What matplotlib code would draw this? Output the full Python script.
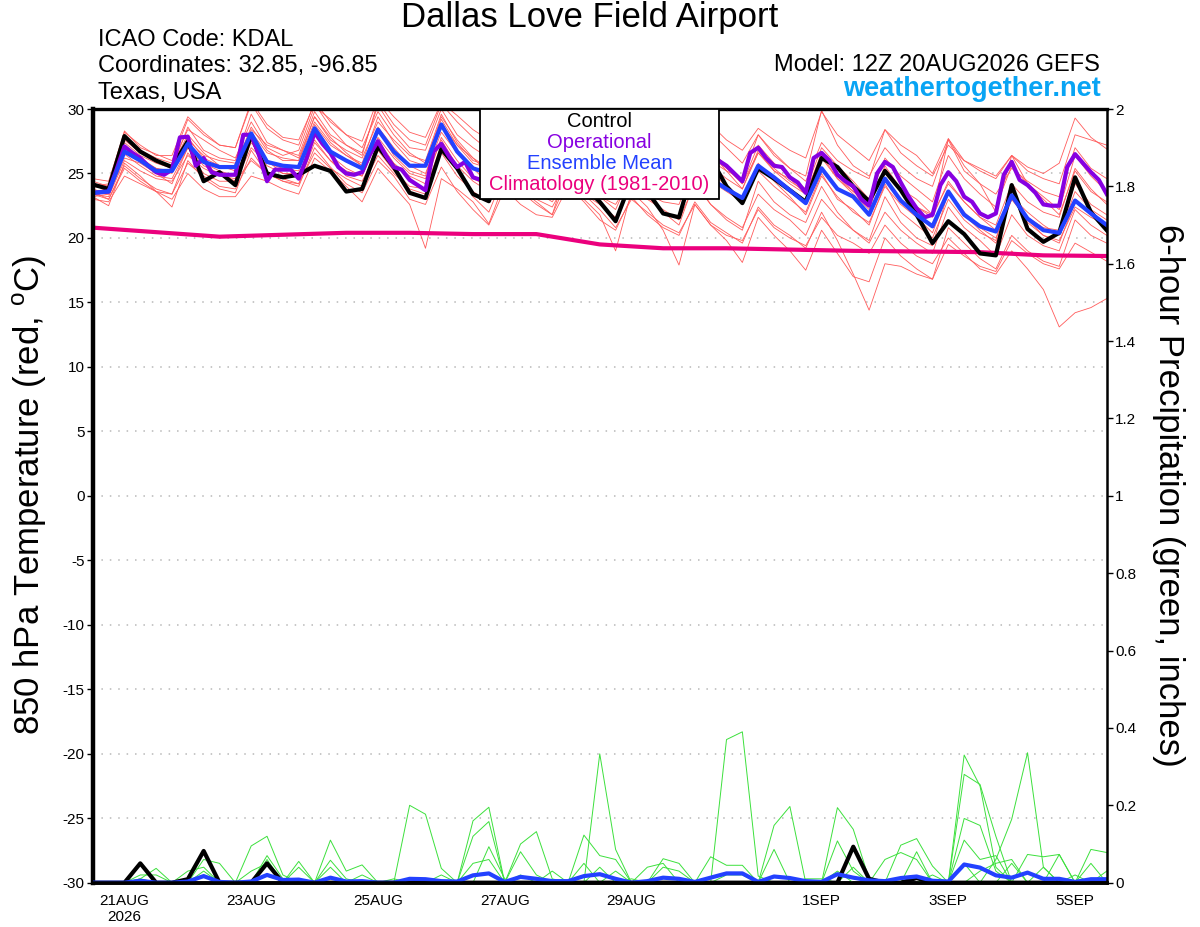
import numpy as np
import pandas as pd
import matplotlib
matplotlib.use('Agg')
import matplotlib.pyplot as plt
from matplotlib.patches import Rectangle
from matplotlib.ticker import FuncFormatter

plt.rcParams['font.family'] = ['Liberation Sans', 'DejaVu Sans']
plt.rcParams['mathtext.fontset'] = 'custom'
plt.rcParams['mathtext.rm'] = 'Liberation Sans'
plt.rcParams['axes.unicode_minus'] = False

# 6-hourly GEFS steps from 12Z 20AUG2026 to 5SEP 12Z, operational run 3-hourly
times = pd.date_range('2026-08-20 12:00', periods=65, freq='6h')
times_op = pd.date_range('2026-08-20 12:00', periods=129, freq='3h')
clim_times = pd.date_range('2026-08-20 12:00', periods=17, freq='24h')

tick_dates = pd.to_datetime(['2026-08-21', '2026-08-23', '2026-08-25', '2026-08-27',
                             '2026-08-29', '2026-09-01', '2026-09-03', '2026-09-05'])
tick_labels = ['21AUG\n2026', '23AUG', '25AUG', '27AUG', '29AUG', '1SEP', '3SEP', '5SEP']

# ---- 850 hPa temperature (C) ----
control_temp = [24.15,
    23.8, 27.9, 26.7, 26.0,  25.5, 27.5, 24.4, 25.1,  24.1, 28.0, 25.0, 24.7,
    24.9, 25.6, 25.2, 23.6,  23.8, 27.1, 25.5, 23.5,  23.1, 26.9, 25.4, 23.4,
    22.85, 26.0, 25.0, 24.0, 23.6, 25.5, 24.0, 22.8,  21.3, 24.5, 23.6, 21.9,
    21.6, 25.8, 26.2, 24.0,  22.7, 25.4, 24.6, 23.7,  22.8, 26.2, 25.5, 24.0,
    22.85, 25.2, 23.7, 21.8, 19.6, 21.3, 20.3, 18.8,  18.65, 24.1, 20.7, 19.7,
    20.4, 24.7, 22.0, 20.6]

mean_temp = [23.5,
    23.6, 26.7, 26.0, 25.2,  25.2, 27.3, 25.9, 25.5,  25.5, 28.1, 25.9, 25.6,
    25.5, 28.5, 26.7, 26.0,  25.4, 28.4, 26.7, 25.6,  25.6, 28.8, 26.7, 25.4,
    25.0, 27.2, 25.9, 25.1,  24.8, 26.4, 25.3, 24.5,  24.0, 25.9, 25.0, 24.4,
    24.0, 25.7, 24.6, 23.8,  23.1, 25.6, 24.7, 23.7,  22.7, 25.4, 23.8, 23.2,
    21.8, 24.6, 22.9, 21.8,  20.9, 23.6, 21.8, 20.9,  20.5, 23.3, 21.5, 20.6,
    20.4, 22.9, 21.9, 21.0]

oper_temp = [23.5, 23.55, 23.6, 25.3, 27.1, 26.6, 26.2, 25.6, 25.1,
    24.9, 25.3, 27.8, 27.85, 25.6, 26.2, 25.1, 24.9,
    24.9, 24.9, 28.0, 28.0, 26.4, 24.4, 25.3, 25.3,
    25.3, 24.6, 26.2, 28.2, 27.3, 26.6, 25.5, 25.0,
    24.9, 25.1, 26.5, 27.5, 26.4, 25.5, 25.3, 24.5,
    24.1, 23.7, 26.7, 27.3, 26.3, 25.5, 25.9, 24.7,
    24.5, 24.2, 25.8, 26.8, 26.0, 25.4, 25.0, 24.8,
    24.4, 24.0, 25.4, 26.2, 25.6, 24.9, 24.4, 24.0,
    23.8, 23.6, 25.0, 25.9, 25.2, 24.6, 24.3, 24.0,
    23.8, 23.6, 25.6, 26.8, 26.6, 26.3, 26.0, 25.6,
    25.0, 24.4, 26.6, 27.0, 26.2, 25.6, 25.5, 24.7,
    24.3, 23.5, 26.2, 26.6, 26.0, 24.9, 24.4, 24.0,
    23.0, 22.5, 25.0, 25.9, 25.5, 24.3, 23.2, 22.3,
    21.6, 21.8, 24.1, 25.1, 24.4, 23.2, 22.8, 21.9,
    21.6, 21.9, 24.9, 25.9, 24.5, 24.1, 23.5, 22.6,
    22.5, 22.5, 25.5, 26.5, 25.8, 25.1, 24.5, 23.4]

climatology = [20.8, 20.45, 20.1, 20.25, 20.4, 20.4, 20.3, 20.3, 19.5,
               19.2, 19.2, 19.1, 19.0, 18.95, 18.9, 18.65, 18.6]

member_01 = [24.0,
    24.2, 28.3, 27.0, 26.5,  26.0, 29.2, 28.0, 27.2,  27.0, 30.4, 28.5, 27.6,
    27.2, 30.6, 29.0, 28.0,  27.5, 30.8, 29.4, 28.2,  27.8, 30.5, 29.5, 28.4,
    27.6, 30.2, 29.0, 28.2,  27.8, 30.4, 29.2, 28.0,  27.2, 29.6, 28.5, 27.5,
    27.0, 30.2, 28.8, 27.6,  26.8, 28.5, 27.6, 26.8,  26.2, 29.8, 28.0, 27.0,
    26.0, 28.4, 27.2, 26.4,  25.0, 27.7, 26.0, 25.2,  24.6, 26.4, 25.5, 25.0,
    25.8, 29.3, 27.8, 26.9]
member_02 = [23.2,
    22.5, 25.8, 24.8, 23.6,  22.4, 26.0, 24.6, 23.8,  23.5, 26.8, 25.0, 24.4,
    24.0, 27.0, 25.5, 24.2,  23.5, 26.0, 24.8, 23.0,  22.6, 25.5, 23.6, 22.2,
    21.0, 23.8, 22.6, 21.8,  21.6, 24.0, 22.8, 21.4,  20.6, 23.2, 21.8, 20.8,
    20.2, 22.8, 21.2, 20.4,  19.6, 22.4, 21.0, 20.2,  19.2, 22.0, 19.8, 17.2,
    14.4, 18.0, 17.8, 17.2,  16.8, 19.5, 18.6, 17.8,  17.4, 19.8, 18.8, 18.0,
    17.6, 19.6, 18.9, 18.2]
member_03 = [23.8,
    23.4, 26.5, 25.6, 24.8,  24.6, 27.0, 25.8, 25.2,  24.8, 27.6, 26.0, 25.0,
    24.8, 28.0, 26.4, 25.4,  24.8, 27.8, 26.2, 25.0,  24.6, 27.6, 25.6, 24.4,
    23.6, 25.8, 24.6, 23.6,  22.8, 24.8, 23.4, 22.2,  20.8, 23.0, 22.0, 21.0,
    20.4, 22.6, 21.0, 20.2,  19.8, 22.2, 20.8, 20.0,  19.4, 21.6, 20.2, 19.6,
    18.8, 21.0, 19.6, 18.6,  18.0, 20.0, 18.8, 17.6,  17.2, 19.0, 17.6, 16.0,
    13.1, 14.2, 14.6, 15.3]
member_04 = [23.6,
    23.8, 27.4, 26.4, 25.8,  25.4, 28.6, 26.8, 26.2,  26.0, 29.6, 27.4, 26.8,
    26.4, 29.8, 28.0, 27.2,  26.6, 30.3, 28.4, 27.0,  26.8, 30.0, 28.0, 27.0,
    26.2, 28.6, 27.6, 26.6,  26.0, 28.8, 27.6, 26.4,  25.6, 28.8, 27.2, 26.2,
    25.6, 29.9, 28.2, 27.0,  25.8, 28.0, 26.6, 25.4,  24.8, 29.9, 27.2, 25.6,
    24.8, 27.0, 25.6, 24.6,  24.0, 27.6, 25.2, 24.2,  23.4, 25.4, 24.4, 23.6,
    23.2, 27.0, 25.4, 24.6]
member_05 = [23.4,
    23.2, 26.0, 25.2, 24.6,  24.4, 26.4, 25.4, 24.8,  24.6, 27.4, 25.6, 25.0,
    25.0, 27.6, 26.0, 25.2,  24.8, 27.6, 25.8, 24.8,  24.2, 27.8, 26.0, 24.6,
    24.0, 26.2, 25.0, 24.0,  23.6, 25.4, 24.0, 23.2,  22.6, 24.6, 23.4, 22.8,
    22.6, 25.6, 24.4, 23.6,  22.8, 25.2, 24.0, 23.0,  22.0, 25.0, 23.0, 22.2,
    21.0, 24.2, 22.0, 21.0,  20.0, 23.0, 21.4, 20.4,  19.8, 24.2, 21.2, 20.2,
    19.8, 22.4, 21.6, 21.0]
member_06 = [24.4,
    24.0, 28.0, 26.8, 26.2,  25.8, 28.4, 27.6, 26.8,  26.2, 29.0, 27.0, 26.4,
    26.8, 30.2, 29.2, 28.0,  27.0, 29.8, 28.0, 26.6,  25.8, 29.4, 27.6, 26.2,
    25.4, 29.0, 27.8, 27.0,  26.4, 28.8, 26.8, 25.6,  24.8, 30.4, 28.2, 26.8,
    25.4, 27.6, 26.6, 25.2,  23.8, 26.6, 25.2, 24.6,  23.4, 26.4, 24.6, 23.4,
    22.2, 25.6, 23.8, 23.0,  21.8, 27.7, 25.6, 24.2,  22.0, 26.4, 24.2, 23.0,
    21.8, 25.2, 23.6, 22.8]
member_07 = [23.0,
    22.8, 24.8, 24.2, 23.6,  23.0, 25.0, 23.8, 23.2,  23.2, 24.8, 24.4, 23.8,
    23.4, 26.2, 25.2, 24.0,  22.8, 25.4, 24.0, 22.6,  19.2, 24.6, 23.8, 22.8,
    21.1, 24.4, 23.6, 22.6,  21.8, 24.6, 23.0, 21.8,  19.0, 23.6, 22.4, 20.6,
    17.9, 22.6, 21.0, 19.8,  18.1, 21.6, 20.2, 19.0,  17.5, 20.6, 18.8, 17.0,
    16.6, 20.0, 18.6, 17.6,  16.8, 20.8, 19.6, 18.4,  17.6, 20.2, 19.0, 18.2,
    17.8, 21.4, 20.2, 19.6]
member_08 = [24.2,
    23.6, 27.2, 26.0, 25.4,  25.0, 27.8, 26.2, 25.6,  25.6, 28.6, 26.8, 26.0,
    26.0, 29.4, 27.6, 26.8,  26.2, 29.0, 27.6, 26.4,  26.0, 29.6, 27.4, 26.0,
    25.6, 27.8, 26.6, 25.6,  25.2, 27.6, 26.6, 25.8,  25.0, 27.4, 26.4, 25.4,
    25.0, 27.2, 26.0, 25.2,  24.6, 28.0, 26.4, 25.4,  24.4, 27.4, 26.0, 25.2,
    24.6, 28.4, 26.6, 25.6,  24.8, 27.2, 26.0, 25.4,  24.8, 26.4, 25.2, 24.6,
    24.2, 28.0, 27.6, 27.2]
member_09 = [23.6,
    23.0, 25.6, 24.6, 23.8,  23.4, 25.8, 24.8, 24.0,  23.8, 26.2, 25.0, 24.4,
    24.2, 26.6, 25.4, 24.6,  24.0, 26.4, 25.0, 23.8,  23.4, 26.6, 24.8, 23.6,
    22.8, 25.2, 24.0, 23.0,  22.4, 24.6, 23.4, 22.6,  21.6, 24.0, 23.0, 22.2,
    21.4, 24.2, 22.6, 21.6,  20.8, 23.4, 22.2, 21.4,  20.2, 23.0, 21.6, 20.6,
    19.6, 22.0, 20.6, 19.6,  18.8, 22.4, 20.8, 19.8,  18.6, 21.8, 20.2, 19.4,
    19.0, 22.2, 21.0, 20.2]
member_10 = [24.6,
    24.4, 28.2, 27.2, 26.4,  26.4, 29.4, 28.2, 27.2,  27.0, 30.6, 28.8, 27.8,
    27.6, 30.4, 28.6, 27.2,  26.4, 30.6, 28.8, 27.6,  27.2, 30.4, 29.0, 27.8,
    26.8, 29.6, 28.4, 27.2,  26.0, 29.0, 27.6, 26.4,  25.2, 28.0, 27.0, 26.0,
    24.6, 27.6, 26.4, 25.4,  24.2, 26.6, 25.4, 24.4,  23.6, 26.2, 24.6, 23.6,
    22.6, 25.0, 23.6, 22.4,  21.8, 24.2, 22.8, 21.6,  20.6, 23.2, 22.0, 21.0,
    20.2, 23.6, 22.2, 21.4]
member_11 = [23.2,
    23.4, 26.2, 25.8, 25.0,  24.2, 27.0, 25.6, 25.0,  24.4, 27.0, 25.8, 25.4,
    25.2, 28.8, 27.2, 26.4,  25.6, 28.6, 27.0, 25.6,  25.0, 28.2, 26.6, 25.4,
    24.2, 27.0, 25.8, 24.6,  24.0, 26.6, 25.4, 24.2,  23.2, 26.0, 25.0, 24.2,
    23.6, 26.6, 25.2, 24.0,  22.8, 25.8, 24.4, 23.2,  21.8, 24.8, 23.2, 22.0,
    21.2, 24.0, 22.6, 21.6,  20.4, 23.6, 22.0, 20.8,  20.0, 23.0, 21.6, 20.8,
    20.6, 24.2, 22.6, 21.8]
member_12 = [24.0,
    23.8, 27.0, 26.2, 25.4,  25.2, 27.6, 26.4, 26.0,  25.8, 28.2, 26.6, 26.2,
    26.0, 29.0, 27.4, 26.4,  25.8, 29.4, 27.4, 26.0,  25.6, 29.2, 27.2, 25.8,
    25.4, 27.8, 26.4, 25.4,  24.8, 27.0, 25.6, 24.6,  23.8, 26.2, 25.2, 24.6,
    24.2, 26.8, 25.6, 24.6,  23.8, 26.8, 25.2, 24.2,  23.4, 26.6, 24.8, 23.6,
    22.6, 25.4, 23.6, 22.4,  21.6, 24.4, 22.8, 21.6,  21.0, 24.2, 22.8, 22.0,
    21.6, 25.4, 23.8, 22.6]
member_13 = [23.4,
    23.0, 25.4, 24.4, 23.6,  23.4, 26.6, 25.0, 24.4,  24.4, 26.0, 25.0, 24.6,
    24.2, 27.4, 26.0, 24.8,  24.4, 26.8, 25.2, 24.0,  23.8, 27.2, 25.4, 23.2,
    22.0, 25.0, 23.8, 22.8,  21.8, 25.6, 24.2, 23.2,  22.2, 25.0, 23.2, 22.0,
    21.0, 24.4, 22.6, 21.4,  20.6, 24.4, 22.8, 21.8,  21.2, 24.0, 22.0, 20.6,
    19.8, 23.2, 21.2, 20.0,  19.4, 23.6, 21.8, 20.6,  19.6, 23.0, 21.4, 20.2,
    19.6, 22.8, 21.8, 20.8]
member_14 = [24.2,
    24.0, 27.6, 26.6, 26.0,  25.6, 28.0, 26.6, 25.6,  25.2, 28.4, 27.2, 26.8,
    26.2, 29.4, 27.8, 26.6,  25.6, 28.4, 26.4, 25.2,  24.8, 28.8, 27.2, 26.2,
    25.0, 28.2, 26.8, 25.8,  25.4, 28.4, 26.8, 25.6,  24.4, 28.0, 26.2, 25.2,
    24.2, 28.2, 26.8, 25.6,  24.2, 27.2, 25.8, 24.8,  23.8, 27.0, 25.6, 24.4,
    23.0, 26.2, 24.8, 23.8,  22.8, 26.4, 24.6, 23.4,  22.4, 25.6, 24.2, 23.2,
    22.2, 26.4, 24.8, 23.6]

temp_members = [member_01, member_02, member_03, member_04, member_05, member_06, member_07,
                member_08, member_09, member_10, member_11, member_12, member_13, member_14]

# ---- 6-hour precipitation (inches) ----
control_precip = [0,
    0, 0, 0.05, 0,  0, 0.009, 0.082, 0,  0, 0, 0.05, 0,  0, 0, 0, 0,
    0, 0, 0, 0,  0, 0, 0, 0,  0, 0, 0, 0,  0, 0, 0, 0,
    0, 0, 0, 0,  0, 0, 0, 0,  0, 0, 0, 0,  0, 0, 0, 0.093,
    0.01, 0, 0, 0.012,  0, 0, 0, 0,  0, 0, 0, 0,  0, 0, 0, 0]
mean_precip = [0,
    0, 0, 0.005, 0,  0, 0.003, 0.017, 0.002,  0, 0.003, 0.02, 0.007,
    0.008, 0, 0.013, 0.003,  0.004, 0, 0, 0.01,  0.009, 0.004, 0.003, 0.019,
    0.024, 0.002, 0.015, 0.01,  0.004, 0.004, 0.017, 0.022,  0.01, 0, 0.004, 0.013,
    0.01, 0.002, 0.013, 0.024,  0.024, 0.002, 0.016, 0.012,  0.004, 0.002, 0.022, 0.013,
    0.006, 0.004, 0.012, 0.016,  0.005, 0.003, 0.047, 0.039,  0.019, 0.013, 0.026, 0.01,
    0.01, 0.002, 0.009, 0.009]

precip_01 = [0,
    0, 0, 0, 0,  0, 0, 0, 0,  0, 0.095, 0.12, 0.02,  0, 0, 0, 0,
    0, 0, 0, 0.20,  0.177, 0.037, 0, 0,  0, 0, 0, 0,  0, 0, 0, 0.333,
    0.086, 0, 0, 0,  0, 0, 0, 0,  0, 0, 0, 0,  0, 0, 0, 0,
    0, 0, 0.097, 0.114,  0.043, 0, 0, 0,  0, 0, 0, 0,  0, 0, 0.086, 0.078]
precip_02 = [0,
    0, 0, 0, 0,  0, 0, 0.06, 0.05,  0, 0, 0, 0,  0, 0, 0, 0,
    0, 0, 0, 0,  0, 0, 0, 0.16,  0.195, 0, 0, 0,  0, 0, 0, 0,
    0, 0, 0, 0,  0, 0, 0, 0.37,  0.39, 0.017, 0, 0,  0, 0, 0.108, 0.03,
    0, 0, 0, 0,  0, 0, 0.166, 0.148,  0.03, 0, 0, 0,  0, 0, 0, 0]
precip_03 = [0,
    0, 0, 0.01, 0.037,  0, 0, 0, 0,  0, 0, 0, 0,  0, 0, 0.11, 0.03,
    0.046, 0, 0, 0,  0, 0, 0, 0.12,  0.158, 0, 0, 0,  0, 0, 0, 0,
    0, 0, 0, 0.062,  0.05, 0, 0, 0,  0, 0, 0, 0,  0, 0, 0, 0,
    0, 0, 0, 0,  0, 0, 0.33, 0.25,  0.04, 0, 0, 0,  0.073, 0, 0, 0]
precip_04 = [0,
    0, 0, 0, 0,  0, 0.03, 0.04, 0,  0, 0, 0, 0,  0.055, 0, 0, 0,
    0, 0, 0, 0,  0, 0, 0, 0,  0, 0, 0.10, 0.132,  0.01, 0, 0, 0,
    0, 0, 0, 0,  0, 0, 0, 0,  0, 0, 0.086, 0,  0, 0, 0, 0,
    0, 0, 0, 0,  0, 0, 0, 0,  0.06, 0.164, 0.336, 0.04,  0, 0, 0, 0]
precip_05 = [0,
    0, 0, 0, 0,  0, 0, 0, 0,  0, 0, 0.07, 0.01,  0, 0, 0, 0,
    0, 0, 0, 0,  0, 0, 0, 0,  0.093, 0.01, 0, 0,  0, 0, 0.123, 0.07,
    0.06, 0, 0, 0,  0, 0, 0, 0,  0, 0, 0.148, 0.197,  0, 0, 0, 0,
    0, 0, 0, 0,  0, 0, 0, 0,  0, 0, 0.073, 0.067,  0.073, 0, 0, 0]
precip_06 = [0,
    0, 0, 0, 0,  0, 0, 0, 0,  0, 0, 0.06, 0,  0, 0, 0.058, 0.01,
    0, 0, 0, 0,  0, 0, 0, 0,  0, 0, 0.08, 0.02,  0, 0, 0, 0,
    0, 0, 0, 0,  0, 0, 0.067, 0.045,  0.045, 0, 0, 0,  0, 0, 0.194, 0.138,
    0.01, 0, 0, 0,  0, 0, 0.28, 0.254,  0.12, 0, 0, 0,  0, 0, 0, 0]
precip_07 = [0,
    0, 0, 0.02, 0.02,  0, 0, 0, 0,  0, 0, 0, 0,  0.04, 0, 0, 0,
    0, 0, 0, 0,  0, 0.02, 0, 0,  0, 0, 0, 0,  0, 0, 0.05, 0,
    0, 0, 0.04, 0.05,  0, 0, 0, 0,  0, 0, 0, 0,  0, 0, 0, 0,
    0, 0.06, 0.078, 0.06,  0, 0, 0, 0,  0, 0.05, 0, 0,  0, 0, 0, 0.03]
precip_08 = [0,
    0, 0, 0, 0,  0, 0, 0.03, 0,  0, 0, 0, 0,  0, 0, 0.04, 0,
    0, 0, 0, 0,  0, 0, 0, 0.05,  0.06, 0, 0, 0,  0, 0, 0, 0.04,
    0, 0, 0, 0,  0, 0, 0, 0,  0, 0, 0, 0,  0.01, 0.01, 0, 0,
    0, 0, 0, 0.08,  0, 0, 0.11, 0.06,  0.07, 0, 0, 0,  0, 0.02, 0, 0]
precip_09 = [0,
    0, 0, 0.01, 0,  0, 0, 0, 0,  0, 0.03, 0.05, 0,  0, 0, 0, 0,
    0.02, 0, 0, 0,  0, 0, 0, 0,  0, 0, 0, 0,  0.03, 0, 0, 0,
    0, 0.01, 0, 0.04,  0.03, 0, 0, 0,  0, 0, 0, 0,  0, 0, 0, 0.04,
    0, 0, 0, 0,  0, 0, 0.05, 0,  0, 0, 0, 0.04,  0, 0, 0.05, 0]
precip_10 = [0,
    0, 0, 0, 0,  0, 0, 0.02, 0,  0, 0, 0, 0,  0, 0, 0, 0,
    0, 0, 0.01, 0,  0, 0, 0, 0,  0, 0, 0.02, 0,  0, 0, 0, 0,
    0.03, 0, 0, 0,  0, 0, 0, 0.02,  0.02, 0, 0, 0,  0, 0, 0.03, 0,
    0, 0, 0, 0,  0.02, 0, 0, 0.03,  0.05, 0.06, 0, 0,  0, 0, 0, 0]

precip_members = [precip_01, precip_02, precip_03, precip_04, precip_05,
                  precip_06, precip_07, precip_08, precip_09, precip_10]

RED = '#ff5b5b'
GREEN = '#3ce03c'
BLUE = '#2341ff'
PURPLE = '#8700e1'
CLIM = '#eb007d'

fig = plt.figure(figsize=(12, 9.27), dpi=100)
ax = fig.add_axes([0.0773, 0.0478, 0.845, 0.8346])
ax2 = ax.twinx()

for m in temp_members:
    ax.plot(times, m, color=RED, lw=0.6)
ax.plot(clim_times, climatology, color=CLIM, lw=3)
ax.plot(times, control_temp, color='black', lw=3)
ax.plot(times_op, oper_temp, color=PURPLE, lw=3)
ax.plot(times, mean_temp, color=BLUE, lw=3)

for p in precip_members:
    ax2.plot(times, p, color=GREEN, lw=0.7)
ax2.plot(times, control_precip, color='black', lw=3)
ax2.plot(times, mean_precip, color=BLUE, lw=3)

ax.set_xlim(times[0], times[-1])
ax.set_ylim(-30, 30)
ax2.set_ylim(0, 2)

ax.set_yticks(np.arange(-30, 31, 5))
ax.set_xticks(tick_dates)
ax.set_xticklabels(tick_labels, fontsize=11, linespacing=1.2)
ax.tick_params(axis='x', length=0, pad=8)
ax.tick_params(axis='y', labelsize=11, length=4, width=1, pad=2)
for g in range(-25, 30, 5):
    ax.axhline(g, color='#b8b8b8', lw=1.1, ls=(0, (1, 4.5)), zorder=0.5)

ax2.set_yticks(np.arange(0, 2.01, 0.2))
ax2.yaxis.set_major_formatter(FuncFormatter(lambda v, p: '%g' % round(v, 1)))
ax2.tick_params(axis='y', labelsize=11, length=4, width=1, pad=2)

ax.spines['left'].set_linewidth(3.2)
ax.spines['bottom'].set_linewidth(2.6)
ax.spines['top'].set_linewidth(2.4)
ax.spines['right'].set_visible(False)
for s in ['left', 'top']:
    ax2.spines[s].set_visible(False)
ax2.spines['bottom'].set_linewidth(2.6)
ax2.spines['right'].set_linewidth(1.8)

# legend box
x0 = (480 - 92.7) / 1014
x1 = (719 - 92.7) / 1014
y0 = (882.7 - 198.5) / 773.7
ax2.add_patch(Rectangle((x0, y0), x1 - x0, 1 - y0, transform=ax2.transAxes,
                        facecolor='white', edgecolor='black', lw=1.3, zorder=10))
legend_items = [('Control', 'black'), ('Operational', PURPLE),
                ('Ensemble Mean', BLUE), ('Climatology (1981-2010)', CLIM)]
for k, (txt, col) in enumerate(legend_items):
    ypix = 121 + 21.3 * k
    ax2.text((x0 + x1) / 2, (882.7 - ypix) / 773.7, txt, color=col, fontsize=14.5,
             ha='center', va='center', transform=ax2.transAxes, zorder=11)

# labels and header text
fig.text(30 / 1200, 1 - 495 / 927, r'850 hPa Temperature (red, $^{\rm o}$C)',
         rotation=90, ha='center', va='center', fontsize=25)
fig.text(1168 / 1200, 1 - 495 / 927, '6-hour Precipitation (green, inches)',
         rotation=270, ha='center', va='center', fontsize=25)

fig.text(590 / 1200, 1 - 18 / 927, 'Dallas Love Field Airport', ha='center', va='center', fontsize=25)
fig.text(98 / 1200, 1 - 40 / 927, 'ICAO Code: KDAL', ha='left', va='center', fontsize=17)
fig.text(98 / 1200, 1 - 66 / 927, 'Coordinates: 32.85, -96.85', ha='left', va='center', fontsize=17)
fig.text(98 / 1200, 1 - 93 / 927, 'Texas, USA', ha='left', va='center', fontsize=17)
fig.text(1100 / 1200, 1 - 65 / 927, 'Model: 12Z 20AUG2026 GEFS', ha='right', va='center', fontsize=17)
fig.text(1101 / 1200, 1 - 89 / 927, 'weathertogether.net', ha='right', va='center',
         fontsize=19.5, fontweight='bold', color='#08a4f4')

fig.savefig('out.png', dpi=100)
